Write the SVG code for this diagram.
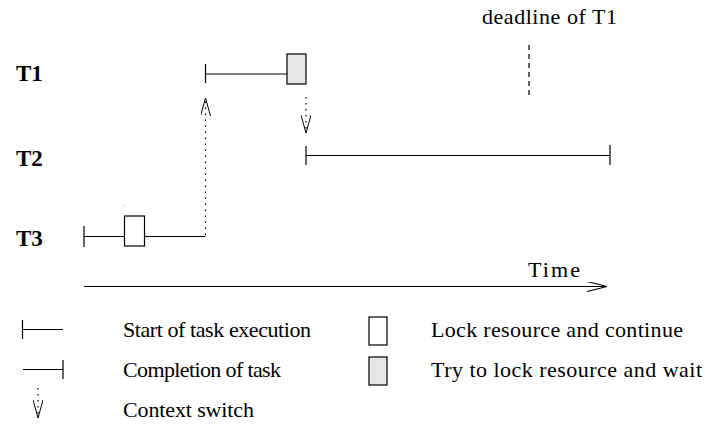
<svg xmlns="http://www.w3.org/2000/svg" width="705" height="429" viewBox="0 0 705 429">
<style>
  text { font-family: 'Liberation Serif', 'DejaVu Serif', serif; font-size: 22px; fill: #000; }
  .lbl { font-weight: bold; font-size: 23px; }
  .ln { stroke: #000; stroke-width: 1.2; fill: none; }
  .dot { stroke: #000; stroke-width: 1.2; fill: none; stroke-dasharray: 1.5 4.5; }
  .dash { stroke: #000; stroke-width: 1.2; fill: none; stroke-dasharray: 5 4; }
  .lock { fill: #fff; stroke: #000; stroke-width: 1.2; }
  .wait { fill: #e6e6e6; stroke: #000; stroke-width: 1.2; }
</style>
<defs>
  <marker id="open" viewBox="0 0 20 10" refX="20" refY="5" markerWidth="20" markerHeight="10" markerUnits="userSpaceOnUse" orient="auto">
    <path d="M0,0 L20,5 L0,10" fill="none" stroke="#000" stroke-width="1.2"/>
  </marker>
  <marker id="vhead" viewBox="0 0 18 10" refX="18" refY="5" markerWidth="18" markerHeight="10" markerUnits="userSpaceOnUse" orient="auto">
    <path d="M0,0 L18,5 L0,10" fill="none" stroke="#000" stroke-width="1"/>
  </marker>
</defs>

<g id="labels">
  <text class="lbl" x="16" y="81">T1</text>
  <text class="lbl" x="16" y="166">T2</text>
  <text class="lbl" x="16" y="246">T3</text>
</g>

<g id="deadline">
  <text x="482" y="24" textLength="135">deadline of T1</text>
  <line class="dash" x1="529" y1="45" x2="529" y2="95"/>
</g>

<g id="task-T1">
  <line class="ln" x1="205.5" y1="64" x2="205.5" y2="83"/>
  <line class="ln" x1="205.5" y1="74" x2="287" y2="74"/>
  <rect class="wait" x="287" y="54" width="19" height="30"/>
</g>

<g id="task-T2">
  <line class="ln" x1="306" y1="146" x2="306" y2="165"/>
  <line class="ln" x1="306" y1="155.5" x2="610" y2="155.5"/>
  <line class="ln" x1="610" y1="145" x2="610" y2="165"/>
</g>

<g id="task-T3">
  <line class="ln" x1="84" y1="226" x2="84" y2="247"/>
  <line class="ln" x1="84" y1="236.5" x2="124.5" y2="236.5"/>
  <rect class="lock" x="124.5" y="216" width="20" height="30"/>
  <line class="ln" x1="144.5" y1="236.5" x2="205.5" y2="236.5"/>
  <rect x="124" y="205" width="1" height="1" fill="#aaa"/>
</g>

<g id="connectors">
  <line class="dot" x1="205.5" y1="235" x2="205.5" y2="98" marker-end="url(#vhead)"/>
  <line class="dot" x1="306" y1="97" x2="306" y2="133" marker-end="url(#vhead)"/>
  <line class="ln" x1="84" y1="286.5" x2="607" y2="286.5" marker-end="url(#open)"/>
  <text x="528" y="277" textLength="52">Time</text>
</g>

<g id="legend">
  <line class="ln" x1="22.5" y1="320" x2="22.5" y2="339"/>
  <line class="ln" x1="22.5" y1="329.5" x2="63" y2="329.5"/>
  <text x="123" y="337" textLength="188">Start of task execution</text>

  <line class="ln" x1="23" y1="369.5" x2="63" y2="369.5"/>
  <line class="ln" x1="63" y1="360" x2="63" y2="379"/>
  <text x="123" y="377" textLength="158">Completion of task</text>

  <line class="dot" x1="38" y1="388" x2="38" y2="418" marker-end="url(#vhead)"/>
  <text x="123" y="417" textLength="131">Context switch</text>

  <rect class="lock" x="369" y="317" width="18" height="28"/>
  <text x="431" y="337" textLength="252">Lock resource and continue</text>

  <rect class="wait" x="369" y="357" width="18" height="28"/>
  <text x="431" y="377" textLength="271">Try to lock resource and wait</text>
</g>
</svg>
